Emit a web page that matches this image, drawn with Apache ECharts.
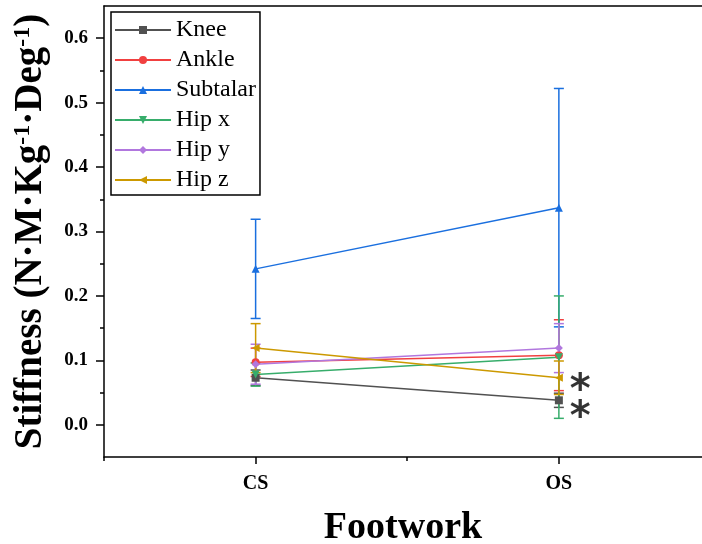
<!DOCTYPE html>
<html>
<head>
<meta charset="utf-8">
<script src="https://cdn.jsdelivr.net/npm/echarts@6/dist/echarts.min.js"></script>
<style>
  html, body { margin: 0; padding: 0; background: #fff; }
  #chart { width: 702px; height: 544px; }
</style>
</head>
<body>
<div id="chart"></div>
<script>
// footwork conditions
var categories = ['CS', 'OS'];
var jointNames = ['Knee', 'Ankle', 'Subtalar', 'Hip x', 'Hip y', 'Hip z'];

// mean stiffness per joint, [CS, OS]
var kneeMean = [0.073, 0.038];
var ankleMean = [0.097, 0.108];
var subtalarMean = [0.242, 0.337];
var hipXMean = [0.078, 0.105];
var hipYMean = [0.094, 0.119];
var hipZMean = [0.119, 0.073];

// standard deviations, [CS, OS]
var kneeSd = [0.012, 0.011];
var ankleSd = [0.022, 0.055];
var subtalarSd = [0.077, 0.185];
var hipXSd = [0.018, 0.095];
var hipYSd = [0.031, 0.038];
var hipZSd = [0.038, 0.026];

// significance markers (x, y) beside OS
var sigMarks = [[2.07, 0.067], [2.07, 0.025]];

var yTickVals = [0, 0.1, 0.2, 0.3, 0.4, 0.5, 0.6];
var yMinorVals = [0.05, 0.15, 0.25, 0.35, 0.45, 0.55];
var xTickVals = [1, 2];
var xMinorVals = [0.5, 1.5];

var means = [kneeMean, ankleMean, subtalarMean, hipXMean, hipYMean, hipZMean];
var sds = [kneeSd, ankleSd, subtalarSd, hipXSd, hipYSd, hipZSd];
var colors = ['#515151', '#F14040', '#1A6FDF', '#37AD6B', '#B177DE', '#CC9900'];
var symbols = ['rect', 'circle', 'triangle', 'triangle', 'diamond', 'triangle'];
var rotates = [0, 0, 0, 180, 0, 90];

var serif = 'Liberation Serif';
var xMax = 2.472; // frame runs past the right edge of the picture

var chart = echarts.init(document.getElementById('chart'));

function errorBar(params, api) {
  var x = api.value(0);
  var lo = api.coord([x, api.value(1)]);
  var hi = api.coord([x, api.value(2)]);
  var w = 5;
  var style = { stroke: api.visual('color'), lineWidth: 1.5 };
  return {
    type: 'group',
    children: [
      { type: 'line', shape: { x1: lo[0], y1: lo[1], x2: hi[0], y2: hi[1] }, style: style },
      { type: 'line', shape: { x1: lo[0] - w, y1: lo[1], x2: lo[0] + w, y2: lo[1] }, style: style },
      { type: 'line', shape: { x1: hi[0] - w, y1: hi[1], x2: hi[0] + w, y2: hi[1] }, style: style }
    ]
  };
}

var series = [];
jointNames.forEach(function (name, i) {
  var errData = means[i].map(function (m, j) {
    return [j + 1, m - sds[i][j], m + sds[i][j]];
  });
  series.push({
    name: name + ' SD',
    type: 'custom',
    renderItem: errorBar,
    itemStyle: { color: colors[i] },
    data: errData,
    z: 2
  });
});
jointNames.forEach(function (name, i) {
  series.push({
    name: name,
    type: 'line',
    data: means[i].map(function (m, j) { return [j + 1, m]; }),
    symbol: symbols[i],
    symbolRotate: rotates[i],
    symbolSize: 8,
    showSymbol: true,
    color: colors[i],
    lineStyle: { width: 1.5, color: colors[i] },
    itemStyle: { color: colors[i] },
    z: 3
  });
});
series.push({
  type: 'scatter',
  data: sigMarks,
  symbolSize: 0,
  silent: true,
  label: {
    show: true,
    position: 'inside',
    formatter: '*',
    fontFamily: 'DejaVu Sans',
    fontWeight: 'bold',
    fontSize: 40,
    color: '#000',
    offset: [0, 10]
  }
});

var option = {
  animation: false,
  backgroundColor: '#fff',
  grid: { left: 104, top: 6, right: 0, bottom: 87, outerBoundsMode: 'none' },
  legend: {
    data: jointNames,
    orient: 'vertical',
    left: 111,
    top: 12,
    padding: [6, 4, 3, 3],
    itemGap: 6,
    itemWidth: 56,
    itemHeight: 10,
    borderColor: '#000',
    borderWidth: 1.5,
    backgroundColor: '#fff',
    textStyle: { fontFamily: serif, fontSize: 24, color: '#000', lineHeight: 24 }
  },
  xAxis: [
    {
      type: 'value', min: 0.5, max: xMax, position: 'bottom',
      name: 'Footwork', nameLocation: 'middle', nameGap: 52,
      nameTextStyle: { fontFamily: serif, fontWeight: 'bold', fontSize: 38, color: '#000' },
      axisLine: { onZero: false, lineStyle: { color: '#000', width: 1.5 } },
      axisTick: { customValues: xTickVals, length: 7, lineStyle: { color: '#000', width: 1.5 } },
      axisLabel: {
        customValues: xTickVals, margin: 17,
        formatter: function (v) { return categories[Math.round(v) - 1]; },
        fontFamily: serif, fontWeight: 'bold', fontSize: 20, color: '#000'
      },
      splitLine: { show: false }
    },
    {
      type: 'value', min: 0.5, max: xMax, position: 'bottom',
      axisLine: { show: false, onZero: false },
      axisTick: { customValues: xMinorVals, length: 4, lineStyle: { color: '#000', width: 1.5 } },
      axisLabel: { show: false },
      splitLine: { show: false }
    },
    {
      type: 'value', min: 0.5, max: xMax, position: 'top',
      axisLine: { onZero: false, lineStyle: { color: '#000', width: 1.5 } },
      axisTick: { show: false },
      axisLabel: { show: false },
      splitLine: { show: false }
    }
  ],
  yAxis: [
    {
      type: 'value', min: -0.05, max: 0.65, position: 'left',
      name: '{b|Stiffness (N·M·Kg}{s|-1}{b|·Deg}{s|-1}{b|)}',
      nameLocation: 'middle', nameGap: 54,
      nameTextStyle: {
        rich: {
          b: { fontFamily: serif, fontWeight: 'bold', fontSize: 39, color: '#000', lineHeight: 39 },
          s: { fontFamily: serif, fontWeight: 'bold', fontSize: 24, color: '#000', lineHeight: 39, verticalAlign: 'top' }
        }
      },
      axisLine: { onZero: false, lineStyle: { color: '#000', width: 1.5 } },
      axisTick: { customValues: yTickVals, length: 8, lineStyle: { color: '#000', width: 1.5 } },
      axisLabel: {
        customValues: yTickVals, margin: 16,
        formatter: function (v) { return v.toFixed(1); },
        fontFamily: serif, fontWeight: 'bold', fontSize: 19, color: '#000'
      },
      splitLine: { show: false }
    },
    {
      type: 'value', min: -0.05, max: 0.65, position: 'left',
      axisLine: { show: false, onZero: false },
      axisTick: { customValues: yMinorVals, length: 4, lineStyle: { color: '#000', width: 1.5 } },
      axisLabel: { show: false },
      splitLine: { show: false }
    }
  ],
  series: series
};

chart.setOption(option);
</script>
</body>
</html>
